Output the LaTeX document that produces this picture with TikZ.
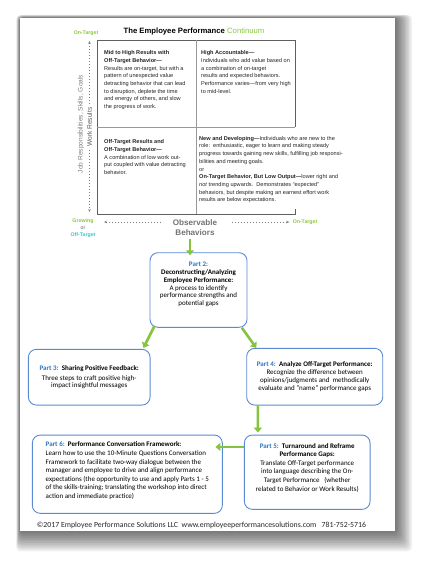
\documentclass[tikz,border=0pt]{standalone}
\usepackage{fontspec}
\setmainfont{Carlito}
\newfontfamily\arialfont{Liberation Sans}
\usepackage{xcolor}
\usetikzlibrary{arrows.meta,positioning}
\definecolor{boxblue}{HTML}{5A8AD2}
\definecolor{partblue}{HTML}{2E75C6}
\definecolor{arrgreen}{HTML}{86C440}
\definecolor{ongreen}{HTML}{8CC63F}
\definecolor{offteal}{HTML}{3DC3CF}
\definecolor{axisgray}{HTML}{808080}
\definecolor{gridgray}{HTML}{5F5F5F}

\begin{document}
\begin{tikzpicture}[x=1pt, y=-1pt,
    quad/.style={anchor=north west, inner sep=0pt, align=left, text=black!85, font=\arialfont\fontsize{5.6}{7.7}\selectfont},
    partbox/.style={draw=boxblue, line width=0.9pt, rounded corners=8pt, align=center, inner sep=2pt, font=\fontsize{7}{7.8}\selectfont},
    arr/.style={draw=arrgreen, line width=2.6pt, -{Triangle[length=5pt,width=8pt]}},
    dotarr/.style={draw=axisgray, line width=0.5pt, dash pattern=on 1.2pt off 1.8pt, -{Stealth[length=3pt,width=2.5pt]}}]
  \useasboundingbox (0,0) rectangle (433,569);
  % page and its shadow
  \foreach \i in {1,...,12}
    \fill[black, opacity=0.06, rounded corners=4pt] (20-0.3*\i,18-0.25*\i) rectangle (395+1.4*\i,531+1.7*\i);
  \fill[white] (20,18) rectangle (395,531);

  % continuum grid
  \draw[gridgray, line width=0.8pt] (295,127) -- (295,40) -- (97,40) -- (97,214) -- (295,214) -- (295,209);
  \draw[gray!80, line width=0.6pt] (196,40) -- (196,214) (97,127) -- (295,127);

  \node[font=\arialfont\bfseries\fontsize{7.7}{9}\selectfont] (title) at (194,32) {The Employee Performance \textcolor{ongreen}{\mdseries Continuum}};
  \node[text=ongreen, font=\arialfont\bfseries\fontsize{5.2}{6}\selectfont] (ontop) at (86,33) {On-Target};

  \node[quad] (q1) at (104,50.5) {\textbf{Mid to High Results with}\\ \textbf{Off-Target Behavior—}\\ Results are on-target, but with a\\ pattern of unexpected value\\ detracting behavior that can lead\\ to disruption, deplete the time\\ and energy of others, and slow\\ the progress of work.};
  \node[quad] (q2) at (201,50.5) {\textbf{High Accountable—}\\ Individuals who add value based on\\ a combination of on-target\\ results and expected behaviors.\\ Performance varies—from very high\\ to mid-level.};
  \node[quad] (q3) at (104,139.5) {\textbf{Off-Target Results and}\\ \textbf{Off-Target Behavior—}\\ A combination of low work out-\\ put coupled with value detracting\\ behavior.};
  \node[quad] (q4) at (199,136) {\textbf{New and Developing—}Individuals who are new to the\\ role:\ \ enthusiastic, eager to learn and making steady\\ progress towards gaining new skills, fulfilling job responsi-\\ bilities and meeting goals.\\ or\\ \textbf{On-Target Behavior, But Low Output—}lower right and\\ \textit{not} trending upwards.\ \ Demonstrates “expected”\\ behaviors, but despite making an earnest effort work\\ results are below expectations.};

  % vertical axis
  \node[rotate=90, text=axisgray, font=\arialfont\fontsize{6.6}{8}\selectfont] (jobs) at (81,124) {Job Responsibilities, Skills, Goals};
  \node[rotate=90, text=black!65, inner sep=3pt, font=\arialfont\fontsize{6.6}{8}\selectfont] (work) at (89.5,127) {Work Results};
  \coordinate (ytop) at (89.5,41);
  \coordinate (ybot) at (89.5,212);
  \draw[dotarr] (work) -- (ytop);
  \draw[dotarr] (work) -- (ybot);

  % horizontal axis
  \node[text=black!55, align=center, font=\arialfont\bfseries\fontsize{8.1}{9.7}\selectfont] (obs) at (195,227.5) {Observable\\ Behaviors};
  \node[text=ongreen, font=\arialfont\bfseries\fontsize{5.2}{6}\selectfont] (onright) at (305,222) {On-Target};
  \node[align=center, font=\arialfont\bfseries\fontsize{5.2}{7.2}\selectfont] (grow) at (83,228) {\textcolor{ongreen}{Growing}\\ \textcolor{black!60}{\mdseries or}\\ \textcolor{offteal}{Off-Target}};
  \coordinate (xleft) at (104,222);
  \draw[dotarr, shorten <=8pt] (obs.west |- xleft) -- (xleft);
  \draw[dotarr, shorten <=11pt] (obs.east |- onright) -- (onright);

  % workshop parts
  \node[partbox, minimum width=97pt, minimum height=74.6pt] (part2) at (198.5,290) {\textcolor{partblue}{\textbf{Part 2:}}\\ \textbf{Deconstructing/Analyzing}\\ \textbf{Employee Performance:}\\ A process to identify\\ performance strengths and\\ potential gaps\rule[-12pt]{0pt}{1pt}};
  \node[partbox, minimum width=121.7pt, minimum height=55.7pt] (part3) at (89.2,377.2) {\textcolor{partblue}{\textbf{Part 3:}}\ \ \textbf{Sharing Positive Feedback:}\\[2pt] Three steps to craft positive high-\\ impact insightful messages};
  \node[partbox, minimum width=136pt, minimum height=56.7pt] (part4) at (314.7,376.7) {\textcolor{partblue}{\textbf{Part 4:}}\ \ \textbf{Analyze Off-Target Performance:}\\ Recognize the difference between\\ opinions/judgments and\ \ methodically\\ evaluate and "name" performance gaps};
  \node[partbox, minimum width=125.7pt, minimum height=74.3pt, font=\fontsize{7}{8.6}\selectfont] (part5) at (307.2,472.2) {\textcolor{partblue}{\textbf{Part 5:}}\ \ \textbf{Turnaround and Reframe}\\ \textbf{Performance Gaps:}\\ Translate Off-Target performance\\ into language describing the\ On-\\ Target Performance\ \ \ (whether\\ related to Behavior or Work Results)\rule[-10pt]{0pt}{1pt}};
  \node[partbox, align=left, minimum width=190pt, minimum height=78.3pt, font=\fontsize{7}{8.6}\selectfont] (part6) at (127.3,474.2) {\textcolor{partblue}{\textbf{Part 6:}}\ \ \textbf{Performance Conversation Framework:}\\ Learn how to use the 10-Minute Questions Conversation\\ Framework to facilitate two-way dialogue between the\\ manager and employee to drive and align performance\\ expectations (the opportunity to use and apply Parts 1 - 5\\ of the skills-training; translating the workshop into direct\\ action and immediate practice)\rule[-8pt]{0pt}{1pt}};

  \draw[arr] ([xshift=-5pt]obs.south) -- ([xshift=-8.5pt,yshift=-3pt]part2.north);
  \draw[arr] ([xshift=5pt,yshift=2pt]part2.south west) -- ([xshift=-7pt,yshift=1pt]part3.north east);
  \draw[arr] ([xshift=-5.6pt]part2.south east) -- ([xshift=10pt]part4.north west);
  \draw[arr] ([xshift=11.6pt]part4.south west) -- ([xshift=14pt,yshift=2pt]part5.north west);
  \draw[arr] ([yshift=-12.3pt]part5.north west) -- ([xshift=-7.3pt,yshift=-12.3pt]part6.north east);

  \node[text=black!85, font=\fontsize{7.8}{9}\selectfont] (footer) at (201.5,525) {©2017 Employee Performance Solutions LLC\ \ www.employeeperformancesolutions.com\ \ \ 781-752-5716};
\end{tikzpicture}
\end{document}
